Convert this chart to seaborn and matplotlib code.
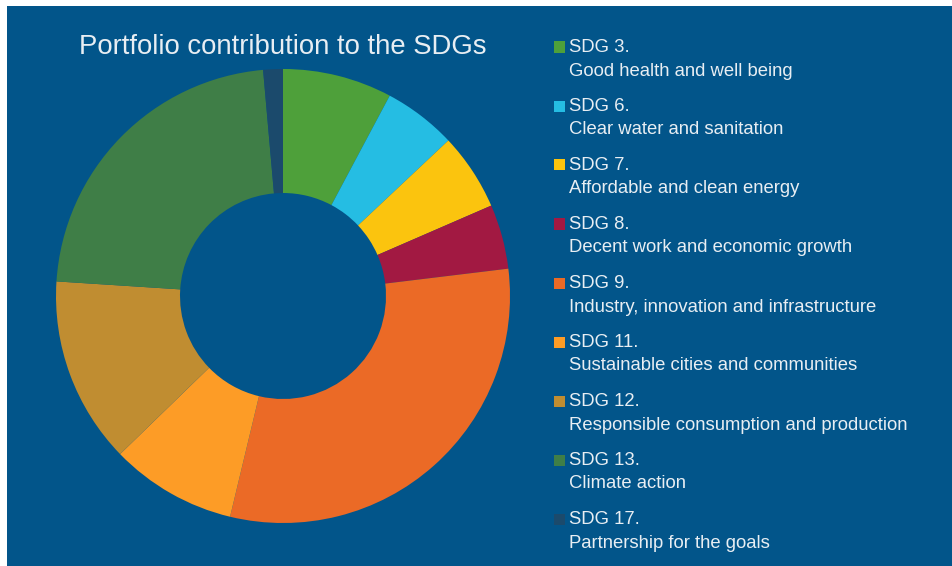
import matplotlib
matplotlib.use("Agg")
import matplotlib.pyplot as plt
import seaborn as sns
from matplotlib.patches import Rectangle

sns.set_style("white")
plt.rcParams['font.family'] = ['Liberation Sans', 'DejaVu Sans']

# data (share of portfolio, %)
goals = ['SDG 3.', 'SDG 6.', 'SDG 7.', 'SDG 8.', 'SDG 9.', 'SDG 11.', 'SDG 12.', 'SDG 13.', 'SDG 17.']
names = ['Good health and well being', 'Clear water and sanitation', 'Affordable and clean energy',
         'Decent work and economic growth', 'Industry, innovation and infrastructure',
         'Sustainable cities and communities', 'Responsible consumption and production',
         'Climate action', 'Partnership for the goals']
shares = [7.8, 5.2, 5.5, 4.6, 30.7, 9.0, 13.3, 22.6, 1.4]
colors = ['#4EA03A', '#25BDE3', '#FBC40E', '#A21942', '#EB6A26', '#FD9C26', '#C08D31', '#3F7E47', '#1B4A6C']

bg = '#02558A'
txt = '#E8EEF3'
W, H = 953, 566

fig = plt.figure(figsize=(W / 100, H / 100), dpi=100, facecolor='white')
fig.patches.append(Rectangle((7 / W, 0), 1 - 7 / W, (H - 6) / H, transform=fig.transFigure,
                             facecolor=bg, edgecolor='none', zorder=-5))

# donut
cx, cy, r = 283, 296, 227
ax = fig.add_axes([(cx - r) / W, (H - cy - r) / H, 2 * r / W, 2 * r / H])
ax.set_zorder(2)
ax.pie(shares, colors=colors, startangle=90, counterclock=False,
       wedgeprops=dict(width=1 - 103 / 227, linewidth=0))
ax.set_xlim(-1, 1)
ax.set_ylim(-1, 1)
ax.set_aspect('equal')
ax.axis('off')

fig.text(cx / W, 1 - 47 / H, 'Portfolio contribution to the SDGs', ha='center', va='center',
         color=txt, fontsize=19.8, zorder=3)

# legend drawn by hand so the swatch sits on the first line
for i, (g, n, c) in enumerate(zip(goals, names, colors)):
    y = 47 + 59 * i
    fig.patches.append(Rectangle((554 / W, 1 - (y + 5.5) / H), 11 / W, 11 / H,
                                 transform=fig.transFigure, facecolor=c, edgecolor='none', zorder=3))
    fig.text(569 / W, 1 - (y + 0.5) / H, g, ha='left', va='center', color=txt, fontsize=13.3, zorder=3)
    fig.text(569 / W, 1 - (y + 24) / H, n, ha='left', va='center', color=txt, fontsize=13.3, zorder=3)

fig.savefig('out.png', dpi=100, facecolor='white')
